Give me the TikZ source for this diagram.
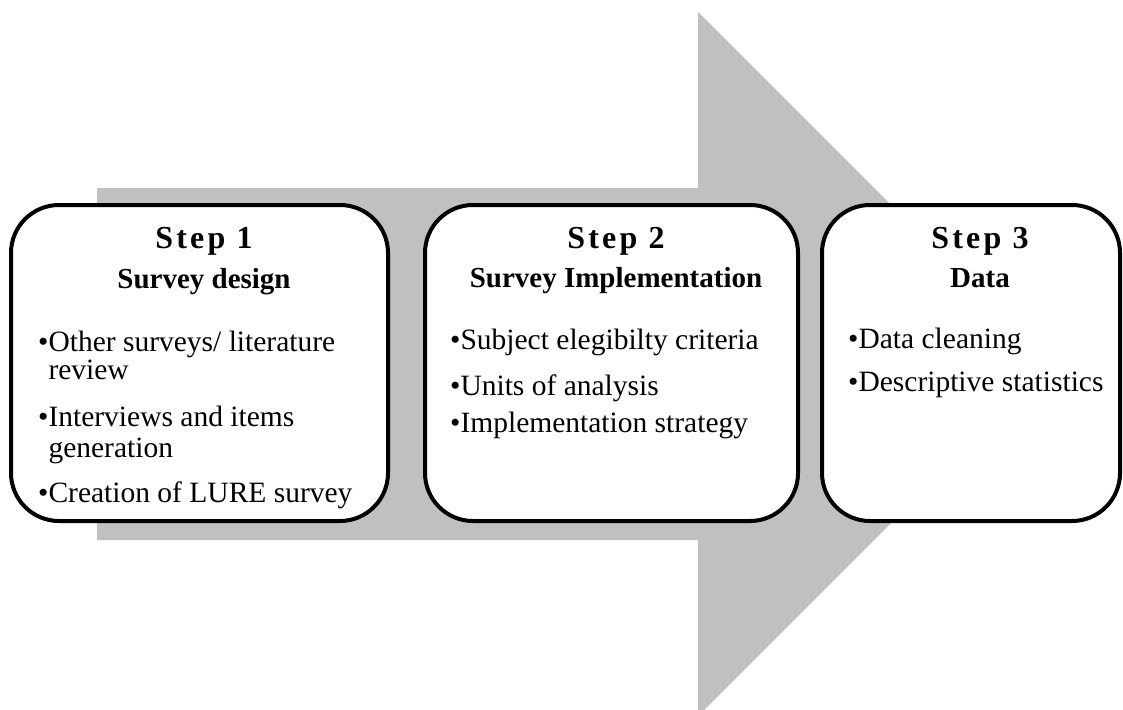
\documentclass[tikz,border=0pt]{standalone}
\usepackage{fontspec}
\setmainfont{Liberation Serif}
\definecolor{shaftgray}{RGB}{192,192,192}
\begin{document}
\begin{tikzpicture}[x=1pt,y=-1pt,
  stepbox/.style={draw=black, line width=4pt, fill=white, rounded corners=48pt,
    minimum height=316pt, inner sep=0pt},
  steplabel/.style={anchor=base, inner sep=0pt,
    font=\fontsize{32}{36}\selectfont\bfseries\addfontfeature{LetterSpace=10}},
  steptitle/.style={anchor=base, inner sep=0pt, font=\fontsize{29}{33}\selectfont\bfseries},
  item/.style={anchor=base west, inner sep=0pt, font=\fontsize{29.5}{33}\selectfont}]
\useasboundingbox (0,0) rectangle (1123,709);
\begin{scope}
\clip (0,0) rectangle (1123,709);
% big grey arrow behind the three steps
\fill[shaftgray] (97,188) -- (698,188) -- (698,12) -- (1050,364) -- (698,716)
  -- (698,540) -- (97,540) -- cycle;

% step boxes
\node[stepbox, minimum width=377pt] (box1) at (199.5,363) {};
\node[stepbox, minimum width=373pt] (box2) at (611.5,363) {};
\node[stepbox, minimum width=298pt] (box3) at (971,363) {};

% step 1
\node[steplabel] (s1) at (204,248) {Step 1};
\node[steptitle] (t1) at (204,288) {Survey design};
\node[item] (i1a) at (38,351) {\textbullet Other surveys/ literature};
\node[item] (i1b) at (38,379) {\phantom{\textbullet}review};
\node[item] (i1c) at (38,426) {\textbullet Interviews and items};
\node[item] (i1d) at (38,457) {\phantom{\textbullet}generation};
\node[item] (i1e) at (38,502) {\textbullet Creation of LURE survey};

% step 2
\node[steplabel] (s2) at (616,248) {Step 2};
\node[steptitle] (t2) at (616,287) {Survey Implementation};
\node[item] (i2a) at (450,349) {\textbullet Subject elegibilty criteria};
\node[item] (i2b) at (450,395) {\textbullet Units of analysis};
\node[item] (i2c) at (450,432) {\textbullet Implementation strategy};

% step 3
\node[steplabel] (s3) at (980,248) {Step 3};
\node[steptitle] (t3) at (980,287) {Data};
\node[item] (i3a) at (848,348) {\textbullet Data cleaning};
\node[item] (i3b) at (848,391) {\textbullet Descriptive statistics};
\end{scope}
\end{tikzpicture}
\end{document}
